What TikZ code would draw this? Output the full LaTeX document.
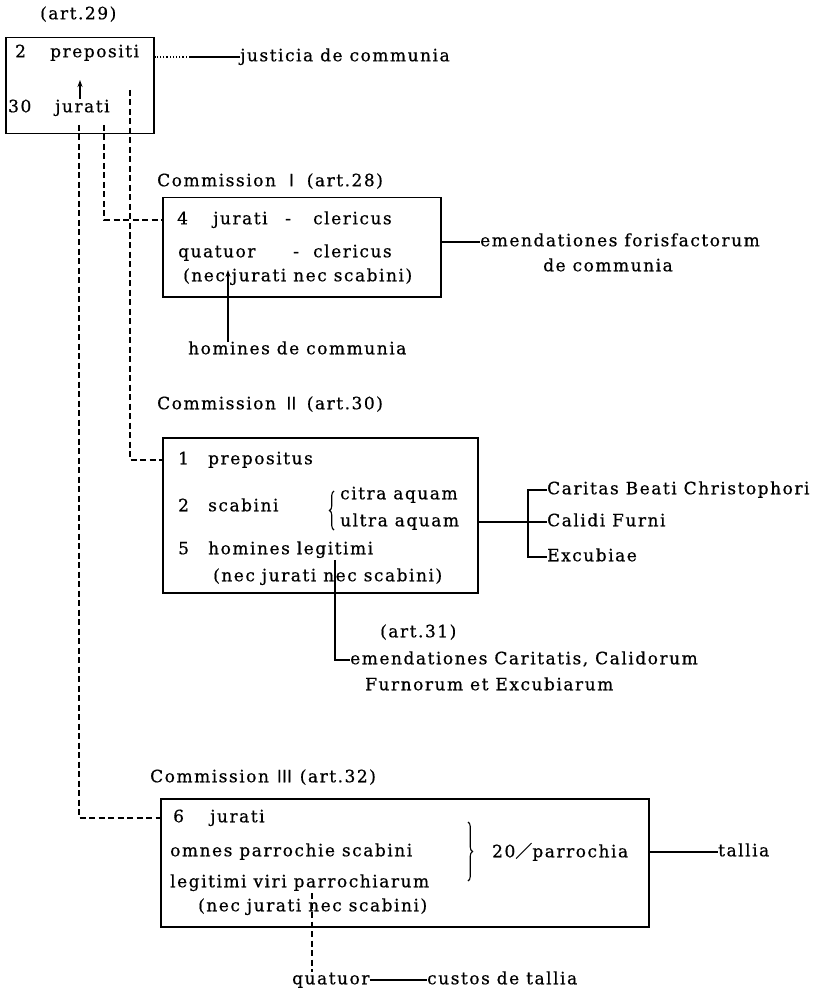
\documentclass[tikz,border=0pt]{standalone}
\usepackage{fontspec}
\setmainfont[LetterSpace=9,FakeBold=0.6]{DejaVu Serif}
\newfontfamily\cjk[FakeBold=0.6]{Noto Sans CJK JP}
\usetikzlibrary{decorations.pathreplacing,arrows.meta}
\begin{document}
\begin{tikzpicture}[x=1pt,y=-1pt,
  txtst/.style={anchor=west,inner sep=0pt,font=\fontsize{17}{20}\selectfont,text height=12pt,text depth=3.5pt},
  boxst/.style={draw,line width=1.5pt,anchor=north west,inner sep=0pt},
  conn/.style={line width=1.4pt},
  dashline/.style={line width=1.3pt,dash pattern=on 6pt off 3.5pt},
  arr/.style={line width=1.3pt,-{Stealth[length=7pt,width=5pt]}},
  bracest/.style={decorate,line width=1.1pt,decoration={brace,amplitude=4.5pt}}]
\useasboundingbox (0,0) rectangle (830,992);
% ---- top box
\node[txtst] (a29) at (40,15) {(art.29)};
\node[boxst,minimum width=148pt,minimum height=96pt] (b0) at (5,37) {};
\node[txtst] (two) at (15,53) {2};
\node[txtst] (pp) at (50,53) {prepositi};
\node[txtst] (thirty) at (8,108) {30};
\node[txtst] (jur) at (55,108) {jurati};
\coordinate (ja) at (80,99);
\coordinate (jb) at (80,80);
\draw[arr] (ja) -- (jb);
\node[txtst] (jus) at (240,57) {justicia de communia};
\coordinate (jd) at (190,57);
\draw[conn] (jus.west) -- (jd);
\draw[line width=1.2pt,dotted] (jd) -- (jd -| b0.east);
% ---- Commission I
\node[txtst] (c1) at (157,182) {Commission\ {\cjk Ⅰ}\ (art.28)};
\node[boxst,minimum width=278pt,minimum height=99pt] (b1) at (162,197) {};
\node[txtst] (four) at (177,220) {4};
\node[txtst] (jur1) at (213,220) {jurati};
\node[txtst] (d1) at (285,220) {-};
\node[txtst] (cl1) at (313,220) {clericus};
\node[txtst] (quat1) at (178,253) {quatuor};
\node[txtst] (d2) at (293,253) {-};
\node[txtst] (cl2) at (313,253) {clericus};
\node[txtst] (nec1) at (183,277) {(nec jurati nec scabini)};
\node[txtst] (hom) at (188,350) {homines de communia};
\coordinate (ha) at (228,270);
\draw[arr] (ha |- hom.north) -- (ha);
\node[txtst] (emf) at (480,242) {emendationes forisfactorum};
\node[txtst] (emf2) at (543,267) {de communia};
\draw[conn] (b1.east |- emf.west) -- (emf.west);
% ---- Commission II
\node[txtst] (c2) at (157,405) {Commission\ {\cjk Ⅱ}\ (art.30)};
\node[boxst,minimum width=315pt,minimum height=155pt] (b2) at (162,437) {};
\node[txtst] (one) at (178,460) {1};
\node[txtst] (prep2) at (208,460) {prepositus};
\node[txtst] (twob) at (178,507) {2};
\node[txtst] (scab) at (208,507) {scabini};
\draw[bracest] (334,530) -- (334,491);
\node[txtst] (citra) at (340,495) {citra aquam};
\node[txtst] (ultra) at (340,522) {ultra aquam};
\node[txtst] (five) at (178,550) {5};
\node[txtst] (homl) at (208,550) {homines legitimi};
\node[txtst] (nec2) at (213,577) {(nec jurati nec scabini)};
\coordinate (v2) at (335,560);
\node[txtst] (a31) at (380,633) {(art.31)};
\node[txtst] (emc) at (350,660) {emendationes Caritatis, Calidorum};
\node[txtst] (emc2) at (365,686) {Furnorum et Excubiarum};
\draw[conn] (v2) |- (emc.west);
\node[txtst] (car) at (547,490) {Caritas Beati Christophori};
\node[txtst] (cal) at (547,522) {Calidi Furni};
\node[txtst] (exc) at (547,557) {Excubiae};
\coordinate (bk) at (528,522);
\draw[conn] (b2.east |- cal.west) -- (cal.west);
\draw[conn] (car.west) -| (bk) |- (exc.west);
% ---- Commission III
\node[txtst] (c3) at (150,778) {Commission\ {\cjk Ⅲ}\ (art.32)};
\node[boxst,minimum width=488pt,minimum height=128pt] (b3) at (160,798) {};
\node[txtst] (six) at (173,818) {6};
\node[txtst] (jur3) at (210,818) {jurati};
\node[txtst] (omn) at (170,852) {omnes parrochie scabini};
\node[txtst] (leg) at (170,883) {legitimi viri parrochiarum};
\node[txtst] (nec3) at (198,907) {(nec jurati nec scabini)};
\draw[bracest] (468,822) -- (468,881);
\node[txtst] (par) at (492,853) {20{\cjk ／}parrochia};
\node[txtst] (tal) at (718,852) {tallia};
\draw[conn] (b3.east |- tal.west) -- (tal.west);
\node[txtst] (quat) at (292,980) {quatuor};
\node[txtst] (cus) at (427,980) {custos de tallia};
\draw[conn] (quat.east) -- (cus.west);
\coordinate (q3) at (312,893);
\draw[dashline] (q3) -- (q3 |- quat.north);
% ---- dashed links from top box
\coordinate (l1s) at (79,125);
\coordinate (l2s) at (104,125);
\coordinate (l3s) at (130,90);
\draw[dashline] (l1s) |- (b3.west |- six.west);
\draw[dashline] (l2s) |- (b1.west |- four.west);
\draw[dashline] (l3s) |- (b2.west |- one.west);
\end{tikzpicture}
\end{document}
